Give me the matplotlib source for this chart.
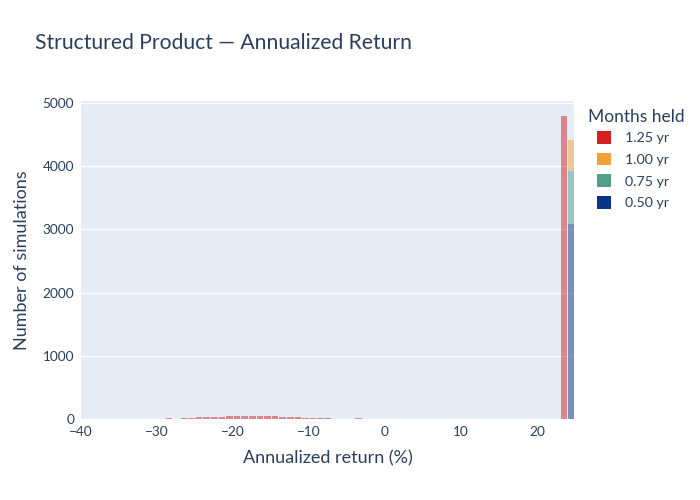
import numpy as np
import matplotlib.pyplot as plt
from matplotlib.patches import Patch

plt.rcParams['font.family'] = ['Lato', 'DejaVu Sans']

# histogram data (bin width 1, left edges in %), stacked bars
series_names = ['1.25 yr', '1.00 yr', '0.75 yr', '0.50 yr']
series_colors = ['#d62020', '#f4a236', '#52a08a', '#0b3486']

# loss tail of the 1.25 yr holding period
red_tail_bins = [-29, -28, -27, -26, -25, -24, -23, -22, -21, -20, -19, -18,
                 -17, -16, -15, -14, -13, -12, -11, -10, -9, -8, -4]
red_tail_counts = [8, 2, 18, 20, 24, 26, 30, 34, 40, 42, 42, 44,
                   46, 52, 44, 36, 30, 24, 20, 16, 12, 10, 12]

# cap bins (where most simulations end up)
cap_bins = [23, 24, 24, 24]
cap_counts = [4790, 480, 840, 3090]

fig = plt.figure(figsize=(7, 5), dpi=100)
ax = fig.add_axes([81 / 700, 81 / 500, (574 - 81) / 700, (419 - 101) / 500])
ax.set_facecolor('#e5ecf6')

# stack order: 0.50 yr at the bottom, then 0.75, 1.00, 1.25
stack_base = {}
for i in reversed(range(len(series_names))):
    bins = [cap_bins[i]]
    counts = [cap_counts[i]]
    if i == 0:
        bins = red_tail_bins + bins
        counts = red_tail_counts + counts
    bottoms = [stack_base.get(b, 0) for b in bins]
    ax.bar(np.array(bins) + 0.55, counts, bottom=bottoms, width=0.85,
           color=series_colors[i], alpha=0.5, linewidth=0, zorder=2)
    for b, c in zip(bins, counts):
        stack_base[b] = stack_base.get(b, 0) + c

ax.set_xlim(-40, 24.9)
ax.set_ylim(0, 5030)
ax.set_yticks(range(0, 5001, 1000))
ax.set_xticks(range(-40, 21, 10))
ax.set_xticklabels([str(t).replace('-', '\u2212') for t in range(-40, 21, 10)])
ax.grid(axis='y', color='white', linewidth=1, zorder=1)
ax.set_axisbelow(True)
for s in ax.spines.values():
    s.set_visible(False)
ax.tick_params(length=0, labelsize=9.8, colors='#2a3f5f', pad=5)

ax.set_xlabel('Annualized return (%)', fontsize=13, color='#2a3f5f', labelpad=9)
ax.set_ylabel('Number of simulations', fontsize=13, color='#2a3f5f', labelpad=9)

fig.text(35 / 700, 1 - 43 / 500, 'Structured Product \u2014 Annualized Return',
         fontsize=15.2, color='#2a3f5f', va='center', ha='left')

fig.text(588 / 700, 1 - 117 / 500, 'Months held', fontsize=12.5,
         color='#2a3f5f', va='center', ha='left')
handles = [Patch(facecolor=c, edgecolor='none') for c in series_colors]
leg = fig.legend(handles, series_names,
                 loc='upper left', bbox_to_anchor=(597 / 700, 1 - 131 / 500),
                 frameon=False, fontsize=10.2,
                 handlelength=1.0, handleheight=1.0, handletextpad=1.0,
                 labelspacing=0.6, borderaxespad=0, borderpad=0)
for t in leg.get_texts():
    t.set_color('#2a3f5f')

fig.savefig('out.png', dpi=100)
